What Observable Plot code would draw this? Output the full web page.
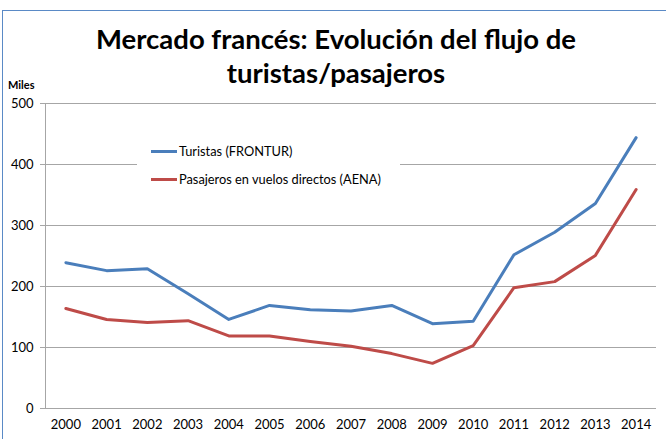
<!DOCTYPE html>
<html>
<head>
<meta charset="utf-8">
<script src="https://cdn.jsdelivr.net/npm/d3@7"></script>
<script src="https://cdn.jsdelivr.net/npm/@observablehq/plot@0.6"></script>
<style>
  html, body { margin: 0; padding: 0; background: #fff; }
  #wrap { position: relative; width: 666px; height: 439px; overflow: hidden; font-family: Lato, "Open Sans", sans-serif; }
  #border { position: absolute; left: 2px; top: 10px; width: 700px; height: 500px; border-left: 1.5px solid #5a8ac6; border-top: 1.5px solid #5a8ac6; }
  #title { position: absolute; left: 0; width: 672px; top: 22px; text-align: center; font-weight: 700; font-size: 27.5px; line-height: 34px; color: #000; }
  #unit { position: absolute; left: 8px; top: 78px; font-weight: 700; font-size: 11px; color: #000; }
  #chart { position: absolute; left: 0; top: 0; }
  #legend { position: absolute; left: 137px; top: 140px; width: 263px; height: 52px; background: #fff; font-size: 12.8px; color: #000; }
  .item { position: absolute; left: 14px; display: flex; align-items: center; }
  .swatch { width: 26px; height: 3px; margin-right: 2px; }
</style>
</head>
<body>
<div id="wrap">
  <div id="border"></div>
  <div id="chart"></div>
  <div id="title">Mercado francés: Evolución del flujo de<br>turistas/pasajeros</div>
  <div id="unit">Miles</div>
  <div id="legend"></div>
</div>
<script>
const years = ["2000","2001","2002","2003","2004","2005","2006","2007","2008","2009","2010","2011","2012","2013","2014"];
const turistas = [239,226,229,188,146,169,162,160,169,139,143,252,289,336,444];
const pasajeros = [164,146,141,144,119,119,110,102,90,74,103,198,208,251,359];
const seriesNames = ["Turistas (FRONTUR)", "Pasajeros en vuelos directos (AENA)"];
const seriesColors = ["#4a7ebb", "#be4b48"];
const yTicks = [0,100,200,300,400,500];

const data = [];
years.forEach((y, i) => {
  data.push({year: y, value: turistas[i], serie: seriesNames[0]});
  data.push({year: y, value: pasajeros[i], serie: seriesNames[1]});
});

const chart = Plot.plot({
  width: 666,
  height: 439,
  marginTop: 103,
  marginBottom: 31,
  marginLeft: 45,
  marginRight: 10,
  style: {fontFamily: "Lato, 'Open Sans', sans-serif", fontSize: "13px", color: "#000", background: "transparent"},
  x: {type: "point", domain: years, padding: 0.5, round: false},
  y: {domain: [0, 500]},
  color: {domain: seriesNames, range: seriesColors},
  marks: [
    Plot.gridY(yTicks, {stroke: "#a6a6a6", strokeOpacity: 1, strokeWidth: 1}),
    Plot.axisY(yTicks, {tickSize: 5, tickPadding: 7, stroke: "#a6a6a6", label: null, fill: "#000", fontSize: 13}),
    Plot.axisX({tickSize: 0, tickPadding: 11, label: null, fill: "#000", fontSize: 13}),
    Plot.frame({anchor: "left", stroke: "#a6a6a6"}),
    Plot.ruleY([0], {stroke: "#a6a6a6"}),
    Plot.line(data, {x: "year", y: "value", z: "serie", stroke: "serie", strokeWidth: 3, strokeLinejoin: "round"})
  ]
});
document.getElementById("chart").appendChild(chart);

const legend = document.getElementById("legend");
seriesNames.forEach((name, i) => {
  const it = document.createElement("div");
  it.className = "item";
  it.style.top = (i === 0 ? 3 : 31) + "px";
  it.innerHTML = `<div class="swatch" style="background:${seriesColors[i]}"></div><span>${name}</span>`;
  legend.appendChild(it);
});
</script>
</body>
</html>
